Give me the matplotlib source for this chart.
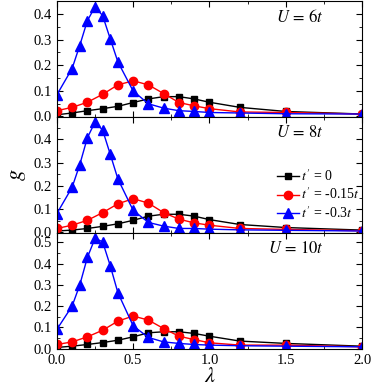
import numpy as np
import matplotlib
matplotlib.use('Agg')
import matplotlib.pyplot as plt
from matplotlib.ticker import MultipleLocator

plt.rcParams['font.family'] = 'Liberation Serif'
plt.rcParams['mathtext.fontset'] = 'stix'

# lambda values
lamSq = [0.0, 0.1, 0.2, 0.3, 0.4, 0.5, 0.6, 0.7, 0.8, 0.9, 1.0, 1.2, 1.5, 2.0]
lamTri = [0.0, 0.1, 0.15, 0.2, 0.25, 0.3, 0.35, 0.4, 0.5, 0.6, 0.7, 0.8, 0.9, 1.0, 1.2, 1.5, 2.0]

# U = 6t
g6_t0 = [0.006, 0.013, 0.022, 0.030, 0.039, 0.054, 0.068, 0.077, 0.077, 0.068, 0.055, 0.035, 0.019, 0.009]
g6_t15 = [0.022, 0.035, 0.055, 0.086, 0.123, 0.139, 0.123, 0.089, 0.054, 0.041, 0.030, 0.017, 0.015, 0.009]
g6_t3 = [0.084, 0.187, 0.277, 0.374, 0.428, 0.394, 0.303, 0.213, 0.099, 0.049, 0.032, 0.022, 0.019, 0.015, 0.013, 0.010, 0.009]

# U = 8t
g8_t0 = [0.006, 0.010, 0.017, 0.026, 0.037, 0.052, 0.070, 0.078, 0.078, 0.070, 0.055, 0.034, 0.021, 0.010]
g8_t15 = [0.017, 0.031, 0.052, 0.085, 0.123, 0.145, 0.126, 0.085, 0.057, 0.041, 0.031, 0.017, 0.013, 0.007]
g8_t3 = [0.081, 0.194, 0.291, 0.407, 0.474, 0.440, 0.336, 0.230, 0.095, 0.043, 0.027, 0.017, 0.017, 0.014, 0.011, 0.009, 0.006]

# U = 10t
g10_t0 = [0.005, 0.011, 0.019, 0.028, 0.039, 0.055, 0.074, 0.079, 0.079, 0.071, 0.058, 0.035, 0.024, 0.011]
g10_t15 = [0.019, 0.031, 0.055, 0.086, 0.129, 0.153, 0.134, 0.094, 0.058, 0.042, 0.027, 0.016, 0.016, 0.008]
g10_t3 = [0.090, 0.200, 0.299, 0.429, 0.519, 0.503, 0.390, 0.263, 0.107, 0.052, 0.031, 0.024, 0.019, 0.016, 0.013, 0.011, 0.008]

panels = [(g6_t0, g6_t15, g6_t3, r'$U\,=\,6t$', 0.452),
          (g8_t0, g8_t15, g8_t3, r'$U\,=\,8t$', 0.497),
          (g10_t0, g10_t15, g10_t3, r'$U\,=\,10t$', 0.545)]

fig = plt.figure(figsize=(3.74, 3.89), dpi=100)
fig.subplots_adjust(left=0.152, right=0.968, bottom=0.103, top=0.998, hspace=0)
axs = fig.subplots(3, 1, sharex=True)

for i, (a, b, c, label, ytop) in enumerate(panels):
    ax = axs[i]
    ax.plot(lamSq, a, '-s', color='black', ms=5, lw=1, label=r"$t\,'$ = 0")
    ax.plot(lamSq, b, '-o', color='red', ms=6, lw=1, label=r"$t\,'$ = -0.15$t$")
    ax.plot(lamTri, c, '-^', color='blue', ms=6.5, lw=1, label=r"$t\,'$ = -0.3$t$")
    ax.set_xlim(0, 2.0)
    ax.set_ylim(-0.002, ytop)
    ax.xaxis.set_major_locator(MultipleLocator(0.5))
    ax.xaxis.set_minor_locator(MultipleLocator(0.25))
    ax.yaxis.set_major_locator(MultipleLocator(0.1))
    ax.yaxis.set_minor_locator(MultipleLocator(0.05))
    ax.tick_params(which='both', direction='in', top=True, right=True, labelsize=10.5)
    ax.tick_params(which='major', length=4)
    ax.tick_params(which='minor', length=2)
    ax.text(0.875, 0.86, label, transform=ax.transAxes, ha='right', va='center', fontsize=12)
    if i == 1:
        ax.legend(loc='lower right', bbox_to_anchor=(1.02, 0.03), frameon=False, fontsize=10,
                  handlelength=1.6, handletextpad=0.1, labelspacing=0.2, borderaxespad=0.2)

axs[1].set_ylabel(r'$g$', fontsize=16)
axs[2].set_xlabel(r'$\lambda$', fontsize=16, labelpad=1)

fig.savefig('out.png', dpi=100)
